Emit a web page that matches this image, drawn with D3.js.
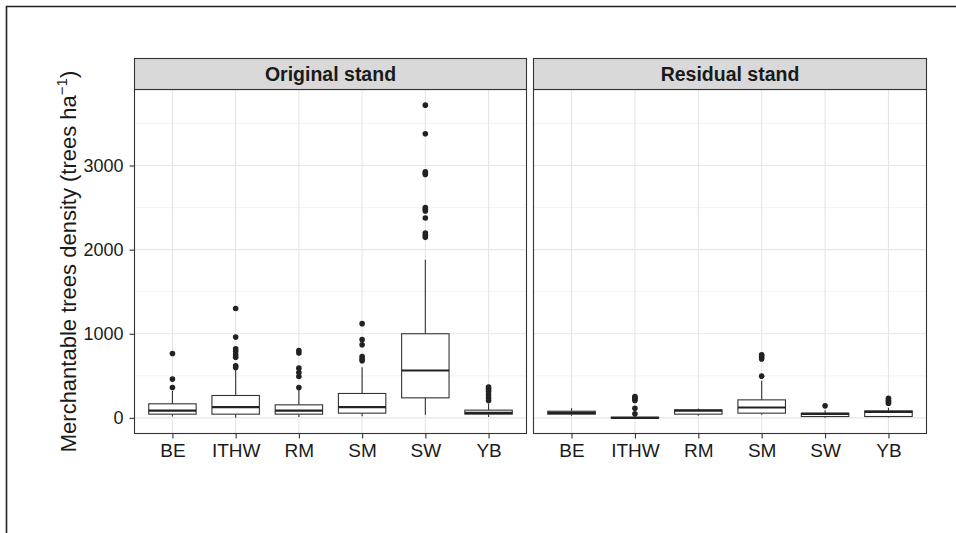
<!DOCTYPE html>
<html>
<head>
  <script src="https://d3js.org/d3.v7.min.js"></script>
  <style>
    body { margin: 0; background: #fff; }
    text { font-family: "Liberation Sans", Arial, sans-serif; }
  </style>
</head>
<body>
  <svg id="canvas" width="956" height="533"></svg>
  <script>
    const svg = d3.select("#canvas");

    // categories and facets
    const species = ["BE", "ITHW", "RM", "SM", "SW", "YB"];
    const stands = ["Original stand", "Residual stand"];

    // box stats per species: [lower whisker, q1, median, q3, upper whisker]
    const originalStats = [
      [15, 44, 87, 167, 320],
      [0, 44, 127, 266, 580],
      [10, 44, 87, 155, 330],
      [20, 56, 127, 290, 603],
      [36, 238, 563, 1000, 1881],
      [10, 44, 60, 92, 170]
    ];
    const residualStats = [
      [24, 44, 60, 79, 115],
      [0, 0, 0, 8, 20],
      [24, 44, 87, 95, 111],
      [36, 56, 123, 214, 440],
      [0, 16, 48, 56, 90],
      [5, 16, 71, 83, 119]
    ];

    // outliers per species
    const originalOutliers = [
      [361, 461, 765],
      [600, 620, 720, 750, 790, 820, 960, 1301],
      [361, 492, 540, 591, 770, 801],
      [680, 700, 730, 870, 930, 1120],
      [2146, 2170, 2198, 2377, 2460, 2480, 2500, 2893, 2910, 2925, 3377, 3718],
      [206, 240, 274, 313, 340, 365]
    ];
    const residualOutliers = [
      [],
      [48, 115, 206, 225, 240, 254],
      [],
      [496, 699, 720, 740, 750],
      [143],
      [175, 190, 210, 234]
    ];

    const yTicks = [0, 1000, 2000, 3000];
    const yMinor = [500, 1500, 2500, 3500];

    const panelTop = 89.5, panelBottom = 433.5;
    const panels = [
      { x0: 134.5, x1: 526.5, stats: originalStats, outliers: originalOutliers },
      { x0: 533.5, x1: 926.5, stats: residualStats, outliers: residualOutliers }
    ];

    // outer frame
    svg.append("path")
      .attr("d", "M6.5,533 L6.5,6.5 L956,6.5")
      .attr("fill", "none")
      .attr("stroke", "#222")
      .attr("stroke-width", 1.6);

    // y scale shared, with 5% expansion
    const allVals = [];
    panels.forEach(p => {
      p.stats.forEach(s => allVals.push(...s));
      p.outliers.forEach(o => allVals.push(...o));
    });
    const [vmin, vmax] = d3.extent(allVals);
    const pad = (vmax - vmin) * 0.05;
    const y = d3.scaleLinear()
      .domain([vmin - pad, vmax + pad])
      .range([panelBottom, panelTop]);

    panels.forEach((p, pi) => {
      // discrete axis with 0.6 expansion on each side
      const step = (p.x1 - p.x0) / (species.length - 1 + 1.2);
      const cx = d3.scalePoint().domain(species).range([p.x0 + 0.6 * step, p.x1 - 0.6 * step]);
      const boxW = step * 0.75;

      const g = svg.append("g");

      g.append("rect")
        .attr("x", p.x0).attr("y", panelTop)
        .attr("width", p.x1 - p.x0).attr("height", panelBottom - panelTop)
        .attr("fill", "#fff");

      // minor grid
      g.selectAll(".ymin").data(yMinor).enter().append("line")
        .attr("x1", p.x0).attr("x2", p.x1)
        .attr("y1", d => y(d)).attr("y2", d => y(d))
        .attr("stroke", "#f0f0f0").attr("stroke-width", 0.8);
      // major grid
      g.selectAll(".ymaj").data(yTicks).enter().append("line")
        .attr("x1", p.x0).attr("x2", p.x1)
        .attr("y1", d => y(d)).attr("y2", d => y(d))
        .attr("stroke", "#e6e6e6").attr("stroke-width", 1.1);
      g.selectAll(".xmaj").data(species).enter().append("line")
        .attr("x1", d => cx(d)).attr("x2", d => cx(d))
        .attr("y1", panelTop).attr("y2", panelBottom)
        .attr("stroke", "#e6e6e6").attr("stroke-width", 1.1);

      // boxes
      species.forEach((sp, i) => {
        const [lo, q1, med, q3, hi] = p.stats[i];
        const c = cx(sp);
        g.append("line")
          .attr("x1", c).attr("x2", c)
          .attr("y1", y(hi)).attr("y2", y(q3))
          .attr("stroke", "#333").attr("stroke-width", 1.1);
        g.append("line")
          .attr("x1", c).attr("x2", c)
          .attr("y1", y(q1)).attr("y2", y(lo))
          .attr("stroke", "#333").attr("stroke-width", 1.1);
        g.append("rect")
          .attr("x", c - boxW / 2).attr("y", y(q3))
          .attr("width", boxW).attr("height", Math.max(0.5, y(q1) - y(q3)))
          .attr("fill", "#fff").attr("stroke", "#333").attr("stroke-width", 1.1);
        g.append("line")
          .attr("x1", c - boxW / 2).attr("x2", c + boxW / 2)
          .attr("y1", y(med)).attr("y2", y(med))
          .attr("stroke", "#222").attr("stroke-width", 2.2);
        g.selectAll(null).data(p.outliers[i]).enter().append("circle")
          .attr("cx", c).attr("cy", d => y(d)).attr("r", 2.8)
          .attr("fill", "#222");
      });

      // panel border
      g.append("rect")
        .attr("x", p.x0).attr("y", panelTop)
        .attr("width", p.x1 - p.x0).attr("height", panelBottom - panelTop)
        .attr("fill", "none").attr("stroke", "#333").attr("stroke-width", 1.1);

      // strip
      g.append("rect")
        .attr("x", p.x0).attr("y", 58.5)
        .attr("width", p.x1 - p.x0).attr("height", panelTop - 58.5)
        .attr("fill", "#d9d9d9").attr("stroke", "#333").attr("stroke-width", 1.1);
      g.append("text")
        .attr("x", (p.x0 + p.x1) / 2).attr("y", 81)
        .attr("text-anchor", "middle")
        .attr("font-size", 19.5).attr("font-weight", "bold")
        .attr("fill", "#1a1a1a")
        .text(stands[pi]);

      // x axis
      const xAxis = d3.axisBottom(cx).tickSize(5).tickPadding(5);
      const ax = svg.append("g")
        .attr("transform", `translate(0,${panelBottom})`)
        .call(xAxis);
      ax.select(".domain").remove();
      ax.selectAll(".tick line").attr("stroke", "#333").attr("stroke-width", 1.1);
      ax.selectAll(".tick text")
        .attr("font-size", 19).attr("fill", "#1a1a1a")
        .style("font-family", "'Liberation Sans', Arial, sans-serif");
    });

    // y axis
    const yAxis = d3.axisLeft(y).tickValues(yTicks).tickSize(5).tickPadding(6).tickFormat(d3.format("d"));
    const ay = svg.append("g")
      .attr("transform", `translate(${panels[0].x0},0)`)
      .call(yAxis);
    ay.select(".domain").remove();
    ay.selectAll(".tick line").attr("stroke", "#333").attr("stroke-width", 1.1);
    ay.selectAll(".tick text")
      .attr("font-size", 18).attr("fill", "#1a1a1a")
      .style("font-family", "'Liberation Sans', Arial, sans-serif");

    // y title
    const yt = svg.append("text")
      .attr("transform", `translate(76,${(panelTop + panelBottom) / 2}) rotate(-90)`)
      .attr("text-anchor", "middle")
      .attr("font-size", 22)
      .attr("fill", "#1a1a1a");
    yt.append("tspan").text("Merchantable trees density (trees ha");
    yt.append("tspan").attr("dy", -9).attr("font-size", 15).text("\u22121");
    yt.append("tspan").attr("dy", 9).text(")");
  </script>
</body>
</html>
